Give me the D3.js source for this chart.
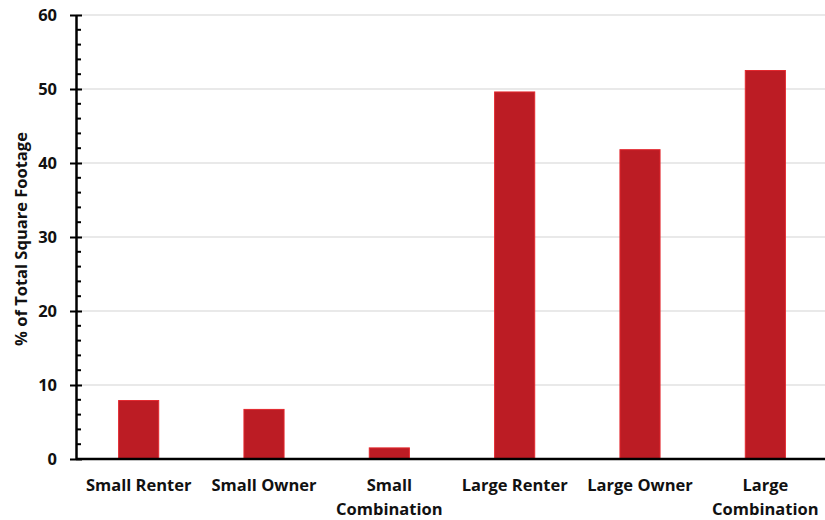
<!DOCTYPE html>
<html>
<head>
<meta charset="utf-8">
<script src="https://cdn.jsdelivr.net/npm/d3@7"></script>
<style>
  html, body { margin: 0; padding: 0; background: #fff; }
  svg { display: block; }
  text { font-family: "Open Sans", Lato, sans-serif; font-weight: 700; fill: #111; }
</style>
</head>
<body>
<svg id="chart" width="825" height="520"></svg>
<script>
// Share of total square footage by owner group
const categories = ["Small Renter", "Small Owner", "Small Combination", "Large Renter", "Large Owner", "Large Combination"];
const categoryLines = [["Small Renter"], ["Small Owner"], ["Small", "Combination"], ["Large Renter"], ["Large Owner"], ["Large", "Combination"]];
const values = [7.9, 6.7, 1.5, 49.6, 41.8, 52.5];
const yTicks = [0, 10, 20, 30, 40, 50, 60];
const yMinorTicks = d3.range(0, 61, 2);
const yTitle = "% of Total Square Footage";

const svg = d3.select("#chart");
const plotLeft = 76, plotRight = 828, plotTop = 15, plotBottom = 459;

const x = d3.scaleBand().domain(categories).range([plotLeft, plotRight]).paddingInner(0.68).paddingOuter(0.34);
const y = d3.scaleLinear().domain([0, 60]).range([plotBottom, plotTop]);

// gridlines
svg.append("g")
  .selectAll("line")
  .data(yTicks.filter(d => d > 0))
  .join("line")
  .attr("x1", plotLeft).attr("x2", 825)
  .attr("y1", d => y(d)).attr("y2", d => y(d))
  .attr("stroke", "#e2e2e2").attr("stroke-width", 1.5);

// bars
svg.append("g")
  .selectAll("rect")
  .data(values)
  .join("rect")
  .attr("x", (d, i) => x(categories[i]))
  .attr("width", x.bandwidth())
  .attr("y", d => y(d))
  .attr("height", d => y(0) - y(d))
  .attr("fill", "#bc1c24")
  .attr("stroke", "#e3282e")
  .attr("stroke-width", 1);

// y axis with major and minor ticks
const yAxis = svg.append("g").attr("transform", `translate(${plotLeft},0)`);
yAxis.append("g")
  .selectAll("line")
  .data(yMinorTicks.filter(d => d % 10 !== 0))
  .join("line")
  .attr("x1", 0).attr("x2", 5)
  .attr("y1", d => y(d)).attr("y2", d => y(d))
  .attr("stroke", "#000").attr("stroke-width", 2);
yAxis.call(d3.axisLeft(y).tickValues(yTicks).tickSize(6).tickPadding(13).tickSizeOuter(0))
  .call(g => g.select(".domain").attr("stroke-width", 2.5))
  .call(g => g.selectAll(".tick line").attr("x1", 6).attr("stroke-width", 2))
  .call(g => g.selectAll(".tick text").attr("font-size", 16.5).attr("font-family", "'Open Sans', sans-serif").attr("font-weight", 700).attr("fill", "#111"));

// x axis baseline
svg.append("line")
  .attr("x1", plotLeft).attr("x2", 825)
  .attr("y1", y(0)).attr("y2", y(0))
  .attr("stroke", "#000").attr("stroke-width", 2.5);

// category labels
const xLabels = svg.append("g");
categories.forEach((c, i) => {
  const cx = x(c) + x.bandwidth() / 2;
  const t = xLabels.append("text")
    .attr("x", cx)
    .attr("y", 491)
    .attr("text-anchor", "middle")
    .attr("font-size", 16.5);
  categoryLines[i].forEach((line, j) => {
    t.append("tspan").attr("x", cx).attr("dy", j === 0 ? 0 : 24).text(line);
  });
});

// y axis title
svg.append("text")
  .attr("transform", `translate(27,239) rotate(-90)`)
  .attr("text-anchor", "middle")
  .attr("font-size", 16.5)
  .text(yTitle);
</script>
</body>
</html>
